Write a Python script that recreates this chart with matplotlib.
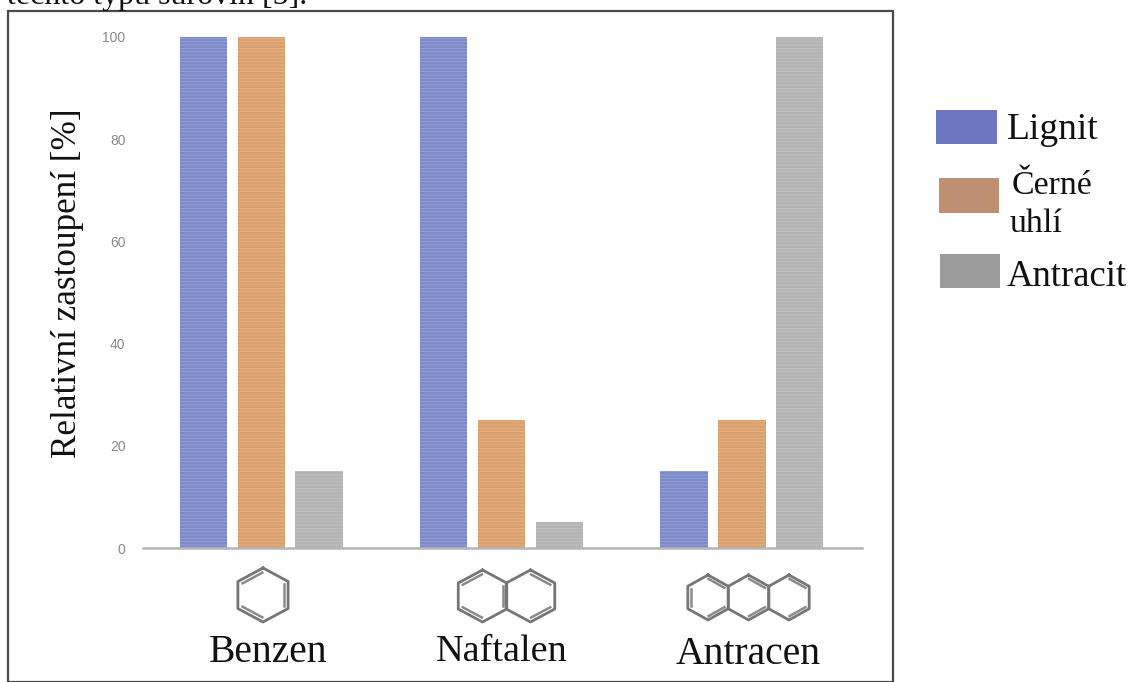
import numpy as np
import matplotlib
matplotlib.use("Agg")
import matplotlib.pyplot as plt
from matplotlib.patches import Rectangle
from matplotlib.lines import Line2D

W, H = 1128, 682
categories = ["Benzen", "Naftalen", "Antracen"]
series = ["Lignit", "Černé\nuhlí", "Antracit"]
lignit = [100, 100, 15]
cerne_uhli = [100, 25, 25]
antracit = [15, 5, 100]
yticks = [0, 20, 40, 60, 80, 100]
ylabel = "Relativní zastoupení [%]"
caption = "těchto typů surovin [5]."
bar_colors = ["#7f8acb", "#dba06e", "#b3b3b3"]
legend_colors = ["#6c76c1", "#bf8f72", "#9b9b9b"]

plt.rcParams["font.family"] = ["Liberation Serif", "DejaVu Serif"]
plt.rcParams["hatch.linewidth"] = 0.35
fig = plt.figure(figsize=(W/100, H/100), dpi=100, facecolor="white")

def fx(x): return x / W
def fy(y): return 1 - y / H

# frame and clipped caption line
fig.add_artist(Rectangle((fx(8), fy(682)), fx(893-8), fy(11)-fy(682), fill=False,
                         ec="#4a4a4a", lw=1.6, transform=fig.transFigure))
fig.text(fx(7), fy(4), caption, fontsize=23, color="#111111", va="baseline", ha="left")

ax = fig.add_axes([fx(143.5), fy(548), fx(862-143.5), fy(37)-fy(548)])
ax.patch.set_alpha(0)
ax.set_xlim(-0.49, 2.5)
ax.set_ylim(0, 100)
x = np.arange(3)
w = 0.197
off = 0.241
for i, vals in enumerate([lignit, cerne_uhli, antracit]):
    ax.bar(x + (i-1)*off, vals, w, color=bar_colors[i], edgecolor="#ffffff55", hatch="-----", lw=0)
for s in ["top", "left", "right"]:
    ax.spines[s].set_visible(False)
ax.spines["bottom"].set_color("#b5b5b5")
ax.spines["bottom"].set_linewidth(1.8)
ax.set_xticks([])
ax.set_yticks(yticks)
ax.tick_params(axis="y", length=0, pad=13, labelsize=10, labelcolor="#8a8a8a")
for t in ax.get_yticklabels():
    t.set_fontfamily(["Liberation Sans", "DejaVu Sans"])
fig.text(fx(68), fy(283), ylabel, rotation=90, fontsize=25.3, color="#111111", ha="center", va="center")

# category names
for name, cx, cy, fs in zip(categories, [268, 502, 748], [653, 652, 654], [28.5, 27.5, 28.5]):
    fig.text(fx(cx), fy(cy), name, fontsize=fs, color="#111111", ha="center", va="center")

# molecule sketches
def hexagon(cx, cy, rx, ry, doubles):
    a = np.deg2rad(np.arange(90, 90+361, 60))
    px = cx + rx*np.cos(a)
    py = cy - ry*np.sin(a)
    fig.add_artist(Line2D(fx(px), fy(py), color="#767676", lw=2.0, transform=fig.transFigure))
    for k in doubles:
        p0 = np.array([cx + 0.84*rx*np.cos(a[k]), cy - 0.84*ry*np.sin(a[k])])
        p1 = np.array([cx + 0.84*rx*np.cos(a[k+1]), cy - 0.84*ry*np.sin(a[k+1])])
        d = p1 - p0
        q0, q1 = p0 + 0.03*d, p1 - 0.03*d
        fig.add_artist(Line2D(fx(np.array([q0[0], q1[0]])), fy(np.array([q0[1], q1[1]])),
                              color="#8a8a8a", lw=1.8, transform=fig.transFigure))

hexagon(263, 595, 29, 27, [0, 2, 4])
hexagon(482.5, 596, 28, 26, [0, 2, 4])
hexagon(530.5, 596, 28, 26, [5, 3])
hexagon(708, 597.5, 23.3, 22.5, [1, 5, 3])
hexagon(748.5, 597.5, 23.3, 22.5, [5, 3])
hexagon(789, 597.5, 23.3, 22.5, [5, 3])

# legend
boxes = [(936, 110, 997, 144), (939, 178, 999, 213), (940, 254, 1000, 288)]
for (x0, y0, x1, y1), c in zip(boxes, legend_colors):
    fig.add_artist(Rectangle((fx(x0), fy(y1)), fx(x1-x0), fy(y0)-fy(y1), fc=c, ec="none",
                             transform=fig.transFigure))
fig.text(fx(1007), fy(130), series[0], fontsize=27, color="#111111", va="center")
l1, l2 = series[1].split("\n")
fig.text(fx(1012), fy(186), l1, fontsize=24.4, color="#111111", va="center")
fig.text(fx(1010), fy(224), l2, fontsize=24.4, color="#111111", va="center")
fig.text(fx(1007), fy(277), series[2], fontsize=26.4, color="#111111", va="center")

fig.savefig("out.png", dpi=100)
